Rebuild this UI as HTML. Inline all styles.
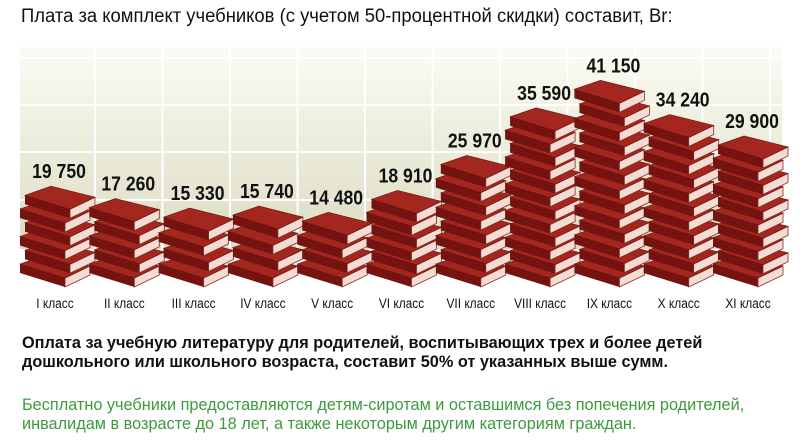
<!DOCTYPE html>
<html><head><meta charset="utf-8"><style>
body{margin:0;width:800px;height:448px;background:#fff;font-family:"Liberation Sans",sans-serif;overflow:hidden;position:relative}
.t{position:absolute;white-space:nowrap}
</style></head><body>
<div class="t" style="left:21px;top:6px;font-size:19px;color:#111;transform:scaleX(0.97);transform-origin:left">Плата за комплект учебников (с учетом 50-процентной скидки) составит, Br:</div>
<svg id="c" width="800" height="320" style="position:absolute;left:0;top:0"></svg>
<div class="t" style="left:22px;top:334px;font-size:16.3px;font-weight:bold;line-height:19px;color:#111">Оплата за учебную литературу для родителей, воспитывающих трех и более детей<br>дошкольного или школьного возраста, составит 50% от указанных выше сумм.</div>
<div class="t" style="left:22px;top:396px;font-size:16.3px;line-height:19px;color:#3d9a3d">Бесплатно учебники предоставляются детям-сиротам и оставшимся без попечения родителей,<br>инвалидам в возрасте до 18 лет, а также некоторым другим категориям граждан.</div>
<script>
const categories=["I класс","II класс","III класс","IV класс","V класс","VI класс","VII класс","VIII класс","IX класс","X класс","XI класс"];
const values=[19750,17260,15330,15740,14480,18910,25970,35590,41150,34240,29900];
const valueLabels=["19 750","17 260","15 330","15 740","14 480","18 910","25 970","35 590","41 150","34 240","29 900"];
const NS="http://www.w3.org/2000/svg";
const svg=document.getElementById('c');
function el(t,a,p){const e=document.createElementNS(NS,t);for(const k in a)e.setAttribute(k,a[k]);(p||svg).appendChild(e);return e;}
const defs=el('defs',{});
const g=el('linearGradient',{id:'bg',x1:0,y1:0,x2:0,y2:1},defs);
el('stop',{offset:0,'stop-color':'#fbfbf4'},g);el('stop',{offset:1,'stop-color':'#dcdcc2'},g);
const bg=el('rect',{x:20,y:47,width:762,height:202,fill:'url(#bg)'});


[58,105,152,200].forEach(y=>{const l=el('line',{x1:20,x2:782,y1:y,y2:y,stroke:'#fff','stroke-width':2});

});
for(let i=0;i<=11;i++){const x=95+i*67.5;if(x>780)break;const l=el('line',{x1:x,x2:x,y1:47,y2:249,stroke:'#fff','stroke-width':2});

}
const base=287, scale=0.00495, BH=32;
function yOf(v){return base-BH-v*scale+29;}
function cx(i){return 57+i*69.3;}
function book(gr,x,y){
  el('polygon',{points:`${x-35},${y+9} ${x+10},${y+23} ${x+10},${y+32} ${x-35},${y+18}`,fill:'#741310'},gr);
  el('polygon',{points:`${x+10},${y+23} ${x+35},${y+11} ${x+35},${y+20} ${x+10},${y+32}`,fill:'#f3dcd4',stroke:'#8a2a20','stroke-width':0.8},gr);
  el('polygon',{points:`${x-35},${y+9} ${x-9},${y} ${x+35},${y+11} ${x+10},${y+23}`,fill:'#a3271e',stroke:'#6a100c','stroke-width':0.6},gr);
}
values.forEach((v,i)=>{
  const x=cx(i), top=yOf(v);
  const gr=el('g',{});
  
  
  const n=Math.max(1,Math.round((base-BH-top)/14)+1);
  for(let k=0;k<n;k++){
    const y=(n===1)?top:(base-BH)-(base-BH-top)*k/(n-1);
    book(gr,x+(k%2?3:-2),y);
  }
  const lab=el('text',{x:x+2,y:top-8,'text-anchor':'middle','font-size':20,'font-weight':'bold',fill:'#111','font-family':'Liberation Sans, sans-serif',transform:`translate(${x+2} 0) scale(0.88 1) translate(${-(x+2)} 0)`});
  lab.textContent=valueLabels[i];
  
  
  const c=el('text',{x:x-2,y:308,'text-anchor':'middle','font-size':14,fill:'#111','font-family':'Liberation Sans, sans-serif',transform:`translate(${x-2} 0) scale(0.85 1) translate(${-(x-2)} 0)`});
  c.textContent=categories[i];
  
  
});
</script>
</body></html>
